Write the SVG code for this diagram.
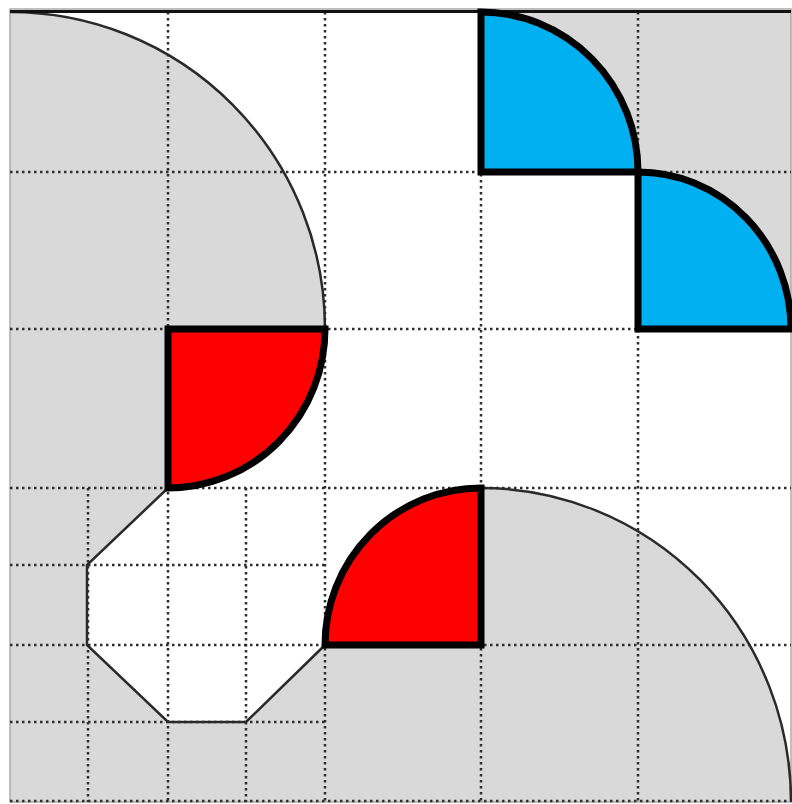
<svg xmlns="http://www.w3.org/2000/svg" width="792" height="804" viewBox="0 0 792 804">
<style>
.gray{fill:#d9d9d9;stroke:none}
.edge{fill:none;stroke:#2a2a2a;stroke-width:2.5}
.grid{stroke:#2e2e2e;stroke-width:2.5;stroke-dasharray:2.5 3.5;fill:none}
.blue{fill:#00b0f0;stroke:#000;stroke-width:7;stroke-linejoin:miter}
.red{fill:#ff0000;stroke:#000;stroke-width:7;stroke-linejoin:miter}
</style>
<rect x="0" y="0" width="792" height="804" fill="#ffffff"/>
<g id="background">
<path class="gray" d="M10,12 A315,317 0 0 1 325,329 L168,329 L168,488 L87,565 L87,645 L168,722 L246,722 L325,645 L481,645 L481,488 A310,314 0 0 1 791,802 L10,802 Z"/>
<path class="gray" d="M481,12 H791 V329 H638 V172 H481 Z"/>
<rect x="10" y="9" width="781" height="793" fill="none" stroke="#aaaaaa" stroke-width="1.5"/>
</g>
<g id="grid">
<path class="grid" d="M168,12 V802 M325,12 V802 M481,12 V802 M638,12 V802"/>
<path class="grid" d="M10,172 H791 M10,329 H791 M10,488 H791 M10,645 H791 M10,801 H791"/>
<path class="grid" d="M88,488 V802 M246,488 V802 M10,565 H325 M10,722 H325"/>
</g>
<g id="outlines">
<path class="edge" d="M10,12 A315,317 0 0 1 325,329"/>
<path class="edge" d="M168,488 L87,565 L87,645 L168,722 L246,722 L325,645"/>
<path class="edge" d="M481,488 A310,314 0 0 1 791,802"/>
<line x1="10" y1="11.5" x2="791" y2="11.5" stroke="#111" stroke-width="3"/>
</g>
<g id="blue1"><path class="blue" d="M481,172 V12 A157,160 0 0 1 638,172 Z"/></g>
<g id="blue2"><path class="blue" d="M638,329 V172 A153,157 0 0 1 791,329 Z"/></g>
<g id="red1"><path class="red" d="M168,329 H325 A157,159 0 0 1 168,488 Z"/></g>
<g id="red2"><path class="red" d="M481,645 V488 A156,157 0 0 0 325,645 Z"/></g>
</svg>
